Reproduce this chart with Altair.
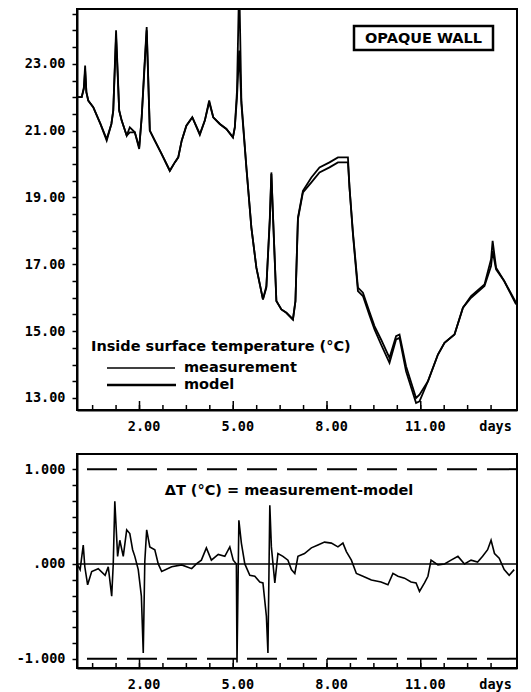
import altair as alt
import pandas as pd

# ---------------- data ----------------
days = [0.0, 0.15, 0.22, 0.26, 0.3, 0.36, 0.52, 0.75, 0.95, 1.1, 1.16, 1.25, 1.35, 1.43,
        1.59, 1.69, 1.85, 1.99, 2.07, 2.15, 2.23, 2.33, 2.49, 2.71, 2.97, 3.13, 3.24, 3.35,
        3.5, 3.69, 3.93, 4.09, 4.23, 4.36, 4.57, 4.78, 4.99, 5.05, 5.12, 5.19, 5.26, 5.42,
        5.58, 5.74, 5.95, 6.06, 6.17, 6.22, 6.27, 6.38, 6.54, 6.7, 6.91, 6.99, 7.07, 7.23,
        7.5, 7.76, 8.08, 8.35, 8.67, 8.72, 8.83, 8.99, 9.15, 9.35, 9.52, 9.73, 10.0, 10.21,
        10.32, 10.53, 10.85, 10.96, 11.23, 11.55, 11.76, 12.08, 12.35, 12.61, 13.04, 13.25,
        13.3, 13.41, 13.67, 14.05]

measurement = [22.0, 22.0, 22.3, 22.95, 22.15, 21.9, 21.7, 21.2, 20.7, 21.2, 21.6, 24.0, 21.6, 21.3,
               20.85, 21.1, 20.95, 20.45, 21.4, 22.8, 24.1, 21.0, 20.7, 20.3, 19.8, 20.05, 20.2, 20.7,
               21.15, 21.4, 20.87, 21.3, 21.9, 21.4, 21.2, 21.05, 20.8, 21.1, 22.2, 25.5, 21.9, 19.9,
               18.1, 16.9, 15.95, 16.3, 18.4, 19.75, 18.5, 15.9, 15.65, 15.55, 15.35, 15.9, 18.4, 19.2,
               19.6, 19.9, 20.05, 20.2, 20.2, 19.3, 17.9, 16.2, 16.05, 15.5, 15.05, 14.6, 14.05, 14.75,
               14.8, 13.8, 12.85, 12.9, 13.5, 14.3, 14.65, 14.9, 15.7, 16.05, 16.4, 17.15,
               17.7, 16.9, 16.5, 15.8]

model = [22.0, 22.0, 22.25, 22.8, 22.15, 21.9, 21.7, 21.2, 20.75, 21.2, 21.6, 23.8, 21.6, 21.3,
         20.85, 20.95, 20.95, 20.5, 21.4, 22.7, 24.0, 21.0, 20.7, 20.3, 19.8, 20.05, 20.2, 20.7,
         21.15, 21.4, 20.9, 21.3, 21.85, 21.4, 21.2, 21.05, 20.8, 21.1, 22.0, 23.4, 21.8, 19.9,
         18.1, 16.9, 15.95, 16.35, 18.3, 19.7, 18.5, 15.9, 15.65, 15.55, 15.35, 15.9, 18.35, 19.15,
         19.45, 19.75, 19.9, 20.05, 20.05, 19.3, 17.95, 16.3, 16.15, 15.6, 15.15, 14.75, 14.2, 14.85,
         14.9, 13.95, 13.0, 13.1, 13.5, 14.3, 14.65, 14.9, 15.7, 16.0, 16.35, 16.95,
         17.4, 16.85, 16.5, 15.85]

diff_days = [0.0, 0.1, 0.2, 0.25, 0.34, 0.47, 0.68, 0.9, 1.0, 1.11, 1.16, 1.21, 1.3, 1.37, 1.48,
             1.59, 1.69, 1.78, 1.85, 1.96, 2.06, 2.12, 2.17, 2.23, 2.33, 2.49, 2.6, 2.71, 3.03,
             3.35, 3.67, 3.82, 3.98, 4.14, 4.3, 4.52, 4.73, 4.89, 5.0, 5.1, 5.12, 5.18, 5.26,
             5.37, 5.53, 5.69, 5.85, 5.95, 6.06, 6.11, 6.17, 6.22, 6.33, 6.43, 6.59, 6.75, 6.86,
             6.97, 7.07, 7.28, 7.5, 7.71, 7.92, 8.14, 8.35, 8.51, 8.62, 8.78, 8.94, 9.15, 9.42,
             9.73, 9.95, 10.11, 10.27, 10.48, 10.69, 10.85, 10.96, 11.12, 11.23, 11.33, 11.55,
             11.76, 11.97, 12.19, 12.4, 12.61, 12.82, 12.98, 13.14, 13.25, 13.36, 13.51, 13.67,
             13.83, 13.99]

diff_values = [0.0, -0.06, 0.2, -0.03, -0.22, -0.08, -0.05, -0.12, -0.03, -0.34, 0.0, 0.66, 0.08,
               0.25, 0.08, 0.36, 0.32, 0.15, 0.08, -0.06, -0.34, -0.94, 0.03, 0.36, 0.18, 0.15, 0.0,
               -0.08, -0.03, -0.01, -0.05, 0.0, 0.04, 0.17, 0.04, 0.1, 0.08, 0.18, 0.04, 0.0, -1.04,
               0.46, 0.22, 0.0, -0.12, -0.13, -0.19, -0.2, -0.55, -0.94, 0.62, 0.18, -0.2, 0.11,
               0.08, 0.04, -0.06, -0.1, 0.08, 0.11, 0.17, 0.2, 0.23, 0.22, 0.18, 0.22, 0.13, 0.04,
               -0.1, -0.13, -0.17, -0.19, -0.22, -0.1, -0.13, -0.15, -0.19, -0.2, -0.29, -0.2,
               -0.13, 0.04, -0.01, 0.0, 0.04, 0.08, 0.0, 0.04, 0.02, 0.08, 0.15, 0.25, 0.11, 0.06,
               -0.06, -0.12, -0.06]

day_ticks = [0.5, 1.25, 2.0, 2.75, 3.5, 4.25, 5.0, 5.75, 6.5, 7.25, 8.0, 8.75, 9.5, 10.25,
             11.0, 11.75, 12.5, 13.25]
major_days = [2.0, 5.0, 8.0, 11.0]
temp_ticks = [13.0, 13.5, 14.0, 14.5, 15.0, 15.5, 16.0, 16.5, 17.0, 17.5, 18.0, 18.5, 19.0,
              19.5, 20.0, 20.5, 21.0, 21.5, 22.0, 22.5, 23.0, 23.5, 24.0, 24.5]
diff_ticks = [-1.0, -0.8333, -0.6667, -0.5, -0.3333, -0.1667, 0.0, 0.1667, 0.3333, 0.5,
              0.6667, 0.8333, 1.0]
limit_lines = [1.0, -1.0]
zero_line = [0.0]

W = 440
H_TOP = 401
H_BOT = 214
X_DOMAIN = [0, 14.08]
LABEL_FONT = "DejaVu Sans Mono"
TEXT_FONT = "DejaVu Sans"
LBL_SIZE = 13.5

x_label_expr = ("datum.value == 13.25 ? 'days' : "
                "((datum.value == 2 || datum.value == 5 || datum.value == 8 || datum.value == 11)"
                " ? format(datum.value, '.2f') : '')")

X_AXIS = alt.Axis(values=day_ticks, labelExpr=x_label_expr, ticks=False, grid=False,
                  labelPadding=9, labelOffset=4, labelFont=LABEL_FONT, labelFontWeight="bold",
                  labelFontSize=LBL_SIZE, labelColor="black", title=None,
                  domainColor="black", domainWidth=2, labelFlush=False)

TOP_Y_AXIS = alt.Axis(values=temp_ticks,
                      labelExpr="datum.value % 2 == 1 ? format(datum.value, '.2f') : ''",
                      tickSize=5, tickWidth=1.5, tickColor="black", labelPadding=7,
                      labelFont=LABEL_FONT, labelFontWeight="bold", labelFontSize=LBL_SIZE,
                      labelColor="black", grid=False, title=None, domainColor="black",
                      domainWidth=2, minExtent=68, maxExtent=68)

BOT_Y_AXIS = alt.Axis(values=diff_ticks,
                      labelExpr=("datum.value == 0 ? '.000' : (datum.value == 1 ? '1.000' : "
                                 "(datum.value == -1 ? '-1.000' : ''))"),
                      tickSize=5, tickWidth=1.5, tickColor="black", labelPadding=7,
                      labelFont=LABEL_FONT, labelFontWeight="bold", labelFontSize=LBL_SIZE,
                      labelColor="black", grid=False, title=None, domainColor="black",
                      domainWidth=2, minExtent=68, maxExtent=68)

x_scale = alt.Scale(domain=X_DOMAIN, nice=False, zero=False)
top_y_scale = alt.Scale(domain=[12.64, 24.64], nice=False, zero=False)
bot_y_scale = alt.Scale(domain=[-1.098, 1.16], nice=False, zero=False)

one = pd.DataFrame({"k": [0]})

def label(text, x, y, size, align="left"):
    return alt.Chart(one).mark_text(font=TEXT_FONT, fontWeight="bold", fontSize=size,
                                    align=align, baseline="middle", color="black").encode(
        x=alt.value(x), y=alt.value(y), text=alt.value(text))

# ---------------- top panel ----------------
temp_df = pd.DataFrame({"day": days + days,
                        "temp": measurement + model,
                        "series": ["measurement"] * len(days) + ["model"] * len(days)})

top_lines = alt.Chart(temp_df).mark_line(color="black", strokeWidth=1.8, clip=True).encode(
    x=alt.X("day:Q", scale=x_scale, axis=X_AXIS),
    y=alt.Y("temp:Q", scale=top_y_scale, axis=TOP_Y_AXIS),
    detail="series:N",
)

top_minor = alt.Chart(pd.DataFrame({"day": day_ticks})).mark_rule(
    color="black", strokeWidth=1.5).encode(
    x=alt.X("day:Q", scale=x_scale, axis=X_AXIS),
    y=alt.value(H_TOP), y2=alt.value(H_TOP - 5))
top_major = alt.Chart(pd.DataFrame({"day": major_days})).mark_rule(
    color="black", strokeWidth=1.5).encode(
    x=alt.X("day:Q", scale=x_scale, axis=X_AXIS),
    y=alt.value(H_TOP), y2=alt.value(H_TOP - 9))

box = alt.Chart(one).mark_rect(fill="white", stroke="black", strokeWidth=2.5).encode(
    x=alt.value(277), x2=alt.value(416), y=alt.value(17), y2=alt.value(41))
box_text = label("OPAQUE WALL", 346.5, 29.5, 14.5, align="center")

leg_title = label("Inside surface temperature (°C)", 14, 338, 14.5)
leg_meas_line = alt.Chart(one).mark_rule(color="black", strokeWidth=1.6).encode(
    x=alt.value(30), x2=alt.value(98), y=alt.value(359))
leg_model_line = alt.Chart(one).mark_rule(color="black", strokeWidth=2.6).encode(
    x=alt.value(30), x2=alt.value(99), y=alt.value(376))
leg_meas_text = label("measurement", 107, 359, 14.5)
leg_model_text = label("model", 107, 376, 14.5)

top = alt.layer(top_lines, top_minor, top_major, box, box_text, leg_title, leg_meas_line,
                leg_model_line, leg_meas_text, leg_model_text).properties(width=W, height=H_TOP)

# ---------------- bottom panel ----------------
diff_df = pd.DataFrame({"day": diff_days, "diff": diff_values})
diff_line = alt.Chart(diff_df).mark_line(color="black", strokeWidth=1.6, clip=True).encode(
    x=alt.X("day:Q", scale=x_scale, axis=X_AXIS),
    y=alt.Y("diff:Q", scale=bot_y_scale, axis=BOT_Y_AXIS),
)

limits = alt.Chart(pd.DataFrame({"diff": limit_lines})).mark_rule(
    color="black", strokeWidth=2, strokeDash=[30, 10]).encode(
    y=alt.Y("diff:Q", scale=bot_y_scale, axis=BOT_Y_AXIS))
zero = alt.Chart(pd.DataFrame({"diff": zero_line})).mark_rule(
    color="black", strokeWidth=1.5).encode(
    y=alt.Y("diff:Q", scale=bot_y_scale, axis=BOT_Y_AXIS))

bot_minor = alt.Chart(pd.DataFrame({"day": day_ticks})).mark_rule(
    color="black", strokeWidth=1.5).encode(
    x=alt.X("day:Q", scale=x_scale, axis=X_AXIS),
    y=alt.value(H_BOT), y2=alt.value(H_BOT - 5))
bot_major = alt.Chart(pd.DataFrame({"day": major_days})).mark_rule(
    color="black", strokeWidth=1.5).encode(
    x=alt.X("day:Q", scale=x_scale, axis=X_AXIS),
    y=alt.value(H_BOT), y2=alt.value(H_BOT - 9))

bot_title = label("ΔT (°C) = measurement-model", 212, 37, 14.5, align="center")

bottom = alt.layer(diff_line, limits, zero, bot_minor, bot_major, bot_title).properties(
    width=W, height=H_BOT)

chart = alt.vconcat(top, bottom, spacing=44, bounds="flush").properties(
    padding={"left": 0, "top": 0, "right": 2, "bottom": 0}, background="white"
).configure_view(stroke="black", strokeWidth=2)

chart.save("out.html", embed_options={"renderer": "svg", "actions": False})
